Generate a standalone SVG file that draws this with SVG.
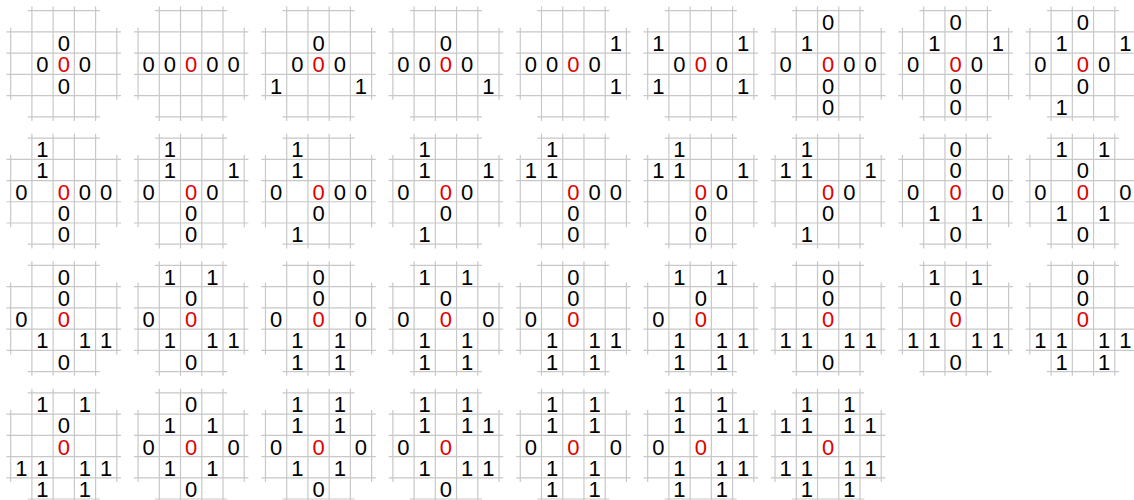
<svg xmlns="http://www.w3.org/2000/svg" width="1134" height="500" viewBox="0 0 1134 500">
<style>
.t text{font-family:"Liberation Sans",Arial,sans-serif;font-size:22px;text-anchor:middle;fill:#000}
.t text.r{fill:#e00000}
.g{fill:none;stroke:#c8c8c8;stroke-width:1.2}
</style>
<defs>
<path id="grid" class="g" d="M21.23 -4.2V110.35M42.46 -4.2V110.35M63.69 -4.2V110.35M84.92 -4.2V110.35M0 17.03V89.12M106.15 17.03V89.12M-4.2 21.23H110.35M-4.2 42.46H110.35M-4.2 63.69H110.35M-4.2 84.92H110.35M17.03 0H89.12M17.03 106.15H89.12"/>
</defs>
<rect width="1134" height="500" fill="#fff"/>
<g class="t" font-family="Liberation Sans, Arial, sans-serif" font-size="22" text-anchor="middle">
<g id="p1" transform="translate(10.67,10.67)"><use href="#grid"/><text x="53.1" y="40.4">0</text><text x="31.8" y="61.7">0</text><text class="r" x="53.1" y="61.7">0</text><text x="74.3" y="61.7">0</text><text x="53.1" y="82.9">0</text></g>
<g id="p2" transform="translate(138.07,10.67)"><use href="#grid"/><text x="10.6" y="61.7">0</text><text x="31.8" y="61.7">0</text><text class="r" x="53.1" y="61.7">0</text><text x="74.3" y="61.7">0</text><text x="95.5" y="61.7">0</text></g>
<g id="p3" transform="translate(265.47,10.67)"><use href="#grid"/><text x="53.1" y="40.4">0</text><text x="31.8" y="61.7">0</text><text class="r" x="53.1" y="61.7">0</text><text x="74.3" y="61.7">0</text><text x="10.6" y="82.9">1</text><text x="95.5" y="82.9">1</text></g>
<g id="p4" transform="translate(392.87,10.67)"><use href="#grid"/><text x="53.1" y="40.4">0</text><text x="10.6" y="61.7">0</text><text x="31.8" y="61.7">0</text><text class="r" x="53.1" y="61.7">0</text><text x="74.3" y="61.7">0</text><text x="95.5" y="82.9">1</text></g>
<g id="p5" transform="translate(520.27,10.67)"><use href="#grid"/><text x="95.5" y="40.4">1</text><text x="10.6" y="61.7">0</text><text x="31.8" y="61.7">0</text><text class="r" x="53.1" y="61.7">0</text><text x="74.3" y="61.7">0</text><text x="95.5" y="82.9">1</text></g>
<g id="p6" transform="translate(647.67,10.67)"><use href="#grid"/><text x="10.6" y="40.4">1</text><text x="95.5" y="40.4">1</text><text x="31.8" y="61.7">0</text><text class="r" x="53.1" y="61.7">0</text><text x="74.3" y="61.7">0</text><text x="10.6" y="82.9">1</text><text x="95.5" y="82.9">1</text></g>
<g id="p7" transform="translate(775.07,10.67)"><use href="#grid"/><text x="53.1" y="19.2">0</text><text x="31.8" y="40.4">1</text><text x="10.6" y="61.7">0</text><text class="r" x="53.1" y="61.7">0</text><text x="74.3" y="61.7">0</text><text x="95.5" y="61.7">0</text><text x="53.1" y="82.9">0</text><text x="53.1" y="104.1">0</text></g>
<g id="p8" transform="translate(902.47,10.67)"><use href="#grid"/><text x="53.1" y="19.2">0</text><text x="31.8" y="40.4">1</text><text x="95.5" y="40.4">1</text><text x="10.6" y="61.7">0</text><text class="r" x="53.1" y="61.7">0</text><text x="74.3" y="61.7">0</text><text x="53.1" y="82.9">0</text><text x="53.1" y="104.1">0</text></g>
<g id="p9" transform="translate(1029.87,10.67)"><use href="#grid"/><text x="53.1" y="19.2">0</text><text x="31.8" y="40.4">1</text><text x="95.5" y="40.4">1</text><text x="10.6" y="61.7">0</text><text class="r" x="53.1" y="61.7">0</text><text x="74.3" y="61.7">0</text><text x="53.1" y="82.9">0</text><text x="31.8" y="104.1">1</text></g>
<g id="p10" transform="translate(10.67,138.07)"><use href="#grid"/><text x="31.8" y="19.2">1</text><text x="31.8" y="40.4">1</text><text x="10.6" y="61.7">0</text><text class="r" x="53.1" y="61.7">0</text><text x="74.3" y="61.7">0</text><text x="95.5" y="61.7">0</text><text x="53.1" y="82.9">0</text><text x="53.1" y="104.1">0</text></g>
<g id="p11" transform="translate(138.07,138.07)"><use href="#grid"/><text x="31.8" y="19.2">1</text><text x="31.8" y="40.4">1</text><text x="95.5" y="40.4">1</text><text x="10.6" y="61.7">0</text><text class="r" x="53.1" y="61.7">0</text><text x="74.3" y="61.7">0</text><text x="53.1" y="82.9">0</text><text x="53.1" y="104.1">0</text></g>
<g id="p12" transform="translate(265.47,138.07)"><use href="#grid"/><text x="31.8" y="19.2">1</text><text x="31.8" y="40.4">1</text><text x="10.6" y="61.7">0</text><text class="r" x="53.1" y="61.7">0</text><text x="74.3" y="61.7">0</text><text x="95.5" y="61.7">0</text><text x="53.1" y="82.9">0</text><text x="31.8" y="104.1">1</text></g>
<g id="p13" transform="translate(392.87,138.07)"><use href="#grid"/><text x="31.8" y="19.2">1</text><text x="31.8" y="40.4">1</text><text x="95.5" y="40.4">1</text><text x="10.6" y="61.7">0</text><text class="r" x="53.1" y="61.7">0</text><text x="74.3" y="61.7">0</text><text x="53.1" y="82.9">0</text><text x="31.8" y="104.1">1</text></g>
<g id="p14" transform="translate(520.27,138.07)"><use href="#grid"/><text x="31.8" y="19.2">1</text><text x="10.6" y="40.4">1</text><text x="31.8" y="40.4">1</text><text class="r" x="53.1" y="61.7">0</text><text x="74.3" y="61.7">0</text><text x="95.5" y="61.7">0</text><text x="53.1" y="82.9">0</text><text x="53.1" y="104.1">0</text></g>
<g id="p15" transform="translate(647.67,138.07)"><use href="#grid"/><text x="31.8" y="19.2">1</text><text x="10.6" y="40.4">1</text><text x="31.8" y="40.4">1</text><text x="95.5" y="40.4">1</text><text class="r" x="53.1" y="61.7">0</text><text x="74.3" y="61.7">0</text><text x="53.1" y="82.9">0</text><text x="53.1" y="104.1">0</text></g>
<g id="p16" transform="translate(775.07,138.07)"><use href="#grid"/><text x="31.8" y="19.2">1</text><text x="10.6" y="40.4">1</text><text x="31.8" y="40.4">1</text><text x="95.5" y="40.4">1</text><text class="r" x="53.1" y="61.7">0</text><text x="74.3" y="61.7">0</text><text x="53.1" y="82.9">0</text><text x="31.8" y="104.1">1</text></g>
<g id="p17" transform="translate(902.47,138.07)"><use href="#grid"/><text x="53.1" y="19.2">0</text><text x="53.1" y="40.4">0</text><text x="10.6" y="61.7">0</text><text class="r" x="53.1" y="61.7">0</text><text x="95.5" y="61.7">0</text><text x="31.8" y="82.9">1</text><text x="74.3" y="82.9">1</text><text x="53.1" y="104.1">0</text></g>
<g id="p18" transform="translate(1029.87,138.07)"><use href="#grid"/><text x="31.8" y="19.2">1</text><text x="74.3" y="19.2">1</text><text x="53.1" y="40.4">0</text><text x="10.6" y="61.7">0</text><text class="r" x="53.1" y="61.7">0</text><text x="95.5" y="61.7">0</text><text x="31.8" y="82.9">1</text><text x="74.3" y="82.9">1</text><text x="53.1" y="104.1">0</text></g>
<g id="p19" transform="translate(10.67,265.47)"><use href="#grid"/><text x="53.1" y="19.2">0</text><text x="53.1" y="40.4">0</text><text x="10.6" y="61.7">0</text><text class="r" x="53.1" y="61.7">0</text><text x="31.8" y="82.9">1</text><text x="74.3" y="82.9">1</text><text x="95.5" y="82.9">1</text><text x="53.1" y="104.1">0</text></g>
<g id="p20" transform="translate(138.07,265.47)"><use href="#grid"/><text x="31.8" y="19.2">1</text><text x="74.3" y="19.2">1</text><text x="53.1" y="40.4">0</text><text x="10.6" y="61.7">0</text><text class="r" x="53.1" y="61.7">0</text><text x="31.8" y="82.9">1</text><text x="74.3" y="82.9">1</text><text x="95.5" y="82.9">1</text><text x="53.1" y="104.1">0</text></g>
<g id="p21" transform="translate(265.47,265.47)"><use href="#grid"/><text x="53.1" y="19.2">0</text><text x="53.1" y="40.4">0</text><text x="10.6" y="61.7">0</text><text class="r" x="53.1" y="61.7">0</text><text x="95.5" y="61.7">0</text><text x="31.8" y="82.9">1</text><text x="74.3" y="82.9">1</text><text x="31.8" y="104.1">1</text><text x="74.3" y="104.1">1</text></g>
<g id="p22" transform="translate(392.87,265.47)"><use href="#grid"/><text x="31.8" y="19.2">1</text><text x="74.3" y="19.2">1</text><text x="53.1" y="40.4">0</text><text x="10.6" y="61.7">0</text><text class="r" x="53.1" y="61.7">0</text><text x="95.5" y="61.7">0</text><text x="31.8" y="82.9">1</text><text x="74.3" y="82.9">1</text><text x="31.8" y="104.1">1</text><text x="74.3" y="104.1">1</text></g>
<g id="p23" transform="translate(520.27,265.47)"><use href="#grid"/><text x="53.1" y="19.2">0</text><text x="53.1" y="40.4">0</text><text x="10.6" y="61.7">0</text><text class="r" x="53.1" y="61.7">0</text><text x="31.8" y="82.9">1</text><text x="74.3" y="82.9">1</text><text x="95.5" y="82.9">1</text><text x="31.8" y="104.1">1</text><text x="74.3" y="104.1">1</text></g>
<g id="p24" transform="translate(647.67,265.47)"><use href="#grid"/><text x="31.8" y="19.2">1</text><text x="74.3" y="19.2">1</text><text x="53.1" y="40.4">0</text><text x="10.6" y="61.7">0</text><text class="r" x="53.1" y="61.7">0</text><text x="31.8" y="82.9">1</text><text x="74.3" y="82.9">1</text><text x="95.5" y="82.9">1</text><text x="31.8" y="104.1">1</text><text x="74.3" y="104.1">1</text></g>
<g id="p25" transform="translate(775.07,265.47)"><use href="#grid"/><text x="53.1" y="19.2">0</text><text x="53.1" y="40.4">0</text><text class="r" x="53.1" y="61.7">0</text><text x="10.6" y="82.9">1</text><text x="31.8" y="82.9">1</text><text x="74.3" y="82.9">1</text><text x="95.5" y="82.9">1</text><text x="53.1" y="104.1">0</text></g>
<g id="p26" transform="translate(902.47,265.47)"><use href="#grid"/><text x="31.8" y="19.2">1</text><text x="74.3" y="19.2">1</text><text x="53.1" y="40.4">0</text><text class="r" x="53.1" y="61.7">0</text><text x="10.6" y="82.9">1</text><text x="31.8" y="82.9">1</text><text x="74.3" y="82.9">1</text><text x="95.5" y="82.9">1</text><text x="53.1" y="104.1">0</text></g>
<g id="p27" transform="translate(1029.87,265.47)"><use href="#grid"/><text x="53.1" y="19.2">0</text><text x="53.1" y="40.4">0</text><text class="r" x="53.1" y="61.7">0</text><text x="10.6" y="82.9">1</text><text x="31.8" y="82.9">1</text><text x="74.3" y="82.9">1</text><text x="95.5" y="82.9">1</text><text x="31.8" y="104.1">1</text><text x="74.3" y="104.1">1</text></g>
<g id="p28" transform="translate(10.67,392.87)"><use href="#grid"/><text x="31.8" y="19.2">1</text><text x="74.3" y="19.2">1</text><text x="53.1" y="40.4">0</text><text class="r" x="53.1" y="61.7">0</text><text x="10.6" y="82.9">1</text><text x="31.8" y="82.9">1</text><text x="74.3" y="82.9">1</text><text x="95.5" y="82.9">1</text><text x="31.8" y="104.1">1</text><text x="74.3" y="104.1">1</text></g>
<g id="p29" transform="translate(138.07,392.87)"><use href="#grid"/><text x="53.1" y="19.2">0</text><text x="31.8" y="40.4">1</text><text x="74.3" y="40.4">1</text><text x="10.6" y="61.7">0</text><text class="r" x="53.1" y="61.7">0</text><text x="95.5" y="61.7">0</text><text x="31.8" y="82.9">1</text><text x="74.3" y="82.9">1</text><text x="53.1" y="104.1">0</text></g>
<g id="p30" transform="translate(265.47,392.87)"><use href="#grid"/><text x="31.8" y="19.2">1</text><text x="74.3" y="19.2">1</text><text x="31.8" y="40.4">1</text><text x="74.3" y="40.4">1</text><text x="10.6" y="61.7">0</text><text class="r" x="53.1" y="61.7">0</text><text x="95.5" y="61.7">0</text><text x="31.8" y="82.9">1</text><text x="74.3" y="82.9">1</text><text x="53.1" y="104.1">0</text></g>
<g id="p31" transform="translate(392.87,392.87)"><use href="#grid"/><text x="31.8" y="19.2">1</text><text x="74.3" y="19.2">1</text><text x="31.8" y="40.4">1</text><text x="74.3" y="40.4">1</text><text x="95.5" y="40.4">1</text><text x="10.6" y="61.7">0</text><text class="r" x="53.1" y="61.7">0</text><text x="31.8" y="82.9">1</text><text x="74.3" y="82.9">1</text><text x="95.5" y="82.9">1</text><text x="53.1" y="104.1">0</text></g>
<g id="p32" transform="translate(520.27,392.87)"><use href="#grid"/><text x="31.8" y="19.2">1</text><text x="74.3" y="19.2">1</text><text x="31.8" y="40.4">1</text><text x="74.3" y="40.4">1</text><text x="10.6" y="61.7">0</text><text class="r" x="53.1" y="61.7">0</text><text x="95.5" y="61.7">0</text><text x="31.8" y="82.9">1</text><text x="74.3" y="82.9">1</text><text x="31.8" y="104.1">1</text><text x="74.3" y="104.1">1</text></g>
<g id="p33" transform="translate(647.67,392.87)"><use href="#grid"/><text x="31.8" y="19.2">1</text><text x="74.3" y="19.2">1</text><text x="31.8" y="40.4">1</text><text x="74.3" y="40.4">1</text><text x="95.5" y="40.4">1</text><text x="10.6" y="61.7">0</text><text class="r" x="53.1" y="61.7">0</text><text x="31.8" y="82.9">1</text><text x="74.3" y="82.9">1</text><text x="95.5" y="82.9">1</text><text x="31.8" y="104.1">1</text><text x="74.3" y="104.1">1</text></g>
<g id="p34" transform="translate(775.07,392.87)"><use href="#grid"/><text x="31.8" y="19.2">1</text><text x="74.3" y="19.2">1</text><text x="10.6" y="40.4">1</text><text x="31.8" y="40.4">1</text><text x="74.3" y="40.4">1</text><text x="95.5" y="40.4">1</text><text class="r" x="53.1" y="61.7">0</text><text x="10.6" y="82.9">1</text><text x="31.8" y="82.9">1</text><text x="74.3" y="82.9">1</text><text x="95.5" y="82.9">1</text><text x="31.8" y="104.1">1</text><text x="74.3" y="104.1">1</text></g>
</g>
<g id="connectors"/>
</svg>
